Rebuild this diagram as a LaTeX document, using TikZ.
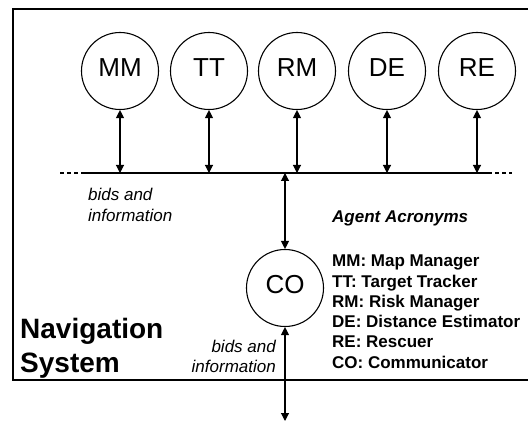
\documentclass[tikz,border=0pt]{standalone}
\usepackage{fontspec}
\setmainfont{Liberation Sans}
\usetikzlibrary{arrows.meta}
\begin{document}
\begin{tikzpicture}[x=1pt,y=-1pt,
  agent/.style={circle,draw,line width=1.1pt,minimum size=77pt,inner sep=0pt,
    font=\fontsize{26}{30}\selectfont,text height=18.6pt,text depth=7.4pt},
  link/.style={line width=1.1pt,{Triangle[length=8pt,width=8pt]}-{Triangle[length=8pt,width=8pt]}},
  bus/.style={line width=1.1pt},
  busend/.style={line width=1.1pt,dash pattern=on 4pt off 3pt},
  note/.style={font=\fontsize{17}{20.6}\selectfont\itshape,inner sep=0pt},
  legend/.style={font=\fontsize{17}{20.2}\selectfont\bfseries,inner sep=0pt,align=left},
  title/.style={font=\fontsize{28}{34}\selectfont\bfseries,inner sep=0pt,align=left}]
\useasboundingbox (0,0) rectangle (528,422);
\fill[white] (0,0) rectangle (528,422);

% system frame (open to the right)
\draw[line width=1.2pt] (528,9) -- (13,9) -- (13,380) -- (528,380);

% agents
\node[agent] (MM) at (120,71) {MM};
\node[agent] (TT) at (209,71) {TT};
\node[agent] (RM) at (297,71) {RM};
\node[agent] (DE) at (387,71) {DE};
\node[agent] (RE) at (477,71) {RE};
\node[agent] (CO) at (285,288) {CO};

% shared bus
\coordinate (busL) at (81,173);
\coordinate (busR) at (488,173);
\coordinate (busLL) at (60,173);
\coordinate (busRR) at (512,173);
\draw[bus] (busL) -- (busR);
\draw[busend] (busLL) -- (busL);
\draw[busend] (busR) -- (busRR);

% agent links to the bus
\foreach \a in {MM,TT,RM,DE,RE}
  \draw[link] (\a.south) -- (\a.south |- busL);
\coordinate (busCO) at (285,173);
\draw[link] (busCO) -- (CO.north);
\coordinate (out) at (285,421);
\draw[link] (CO.south) -- (out);

% labels
\node[note,anchor=base west] (n1a) at (88,201) {bids and};
\node[note,anchor=base west] (n1b) at (88,221.6) {information};
\node[note,anchor=base east] (n2a) at (276,352.5) {bids and};
\node[note,anchor=base east] (n2b) at (276,373) {information};

\node[font=\fontsize{17}{20}\selectfont\bfseries\itshape,inner sep=0pt,anchor=base west] (acr) at (332,223) {Agent Acronyms};
\node[legend,anchor=base west] (l1) at (332,267) {MM: Map Manager};
\node[legend,anchor=base west] (l2) at (332,287.2) {TT: Target Tracker};
\node[legend,anchor=base west] (l3) at (332,307.4) {RM: Risk Manager};
\node[legend,anchor=base west] (l4) at (332,327.6) {DE: Distance Estimator};
\node[legend,anchor=base west] (l5) at (332,347.8) {RE: Rescuer};
\node[legend,anchor=base west] (l6) at (332,368) {CO: Communicator};

\node[title,anchor=base west] (t1) at (20,339) {Navigation};
\node[title,anchor=base west] (t2) at (20,373) {System};
\end{tikzpicture}
\end{document}
